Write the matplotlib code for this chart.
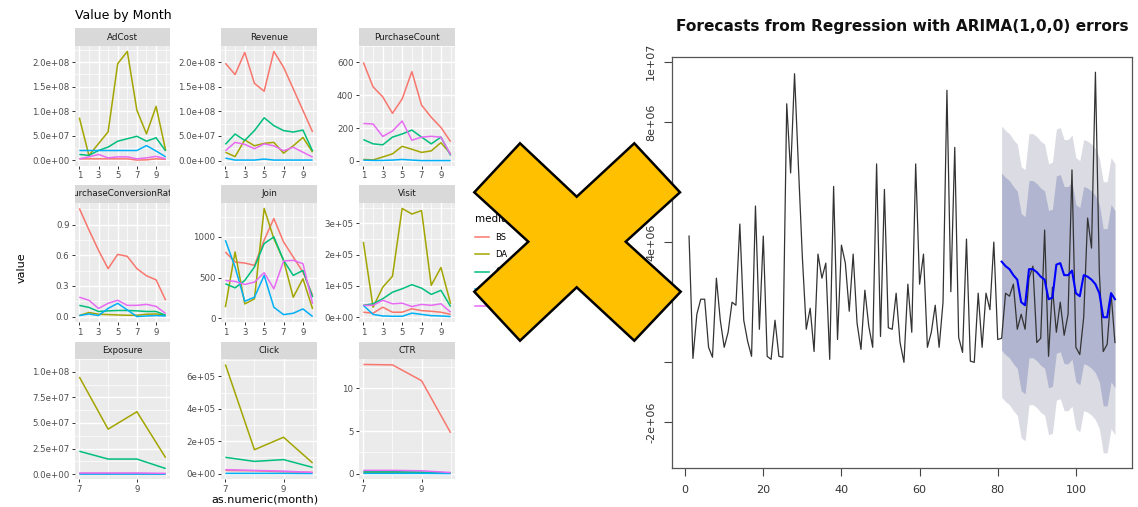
import matplotlib
matplotlib.use("Agg")
import matplotlib.pyplot as plt
from matplotlib.lines import Line2D
from matplotlib.patches import Polygon

W, H = 1138, 507

# ---- left: ggplot-like facets ----
media = ["BS", "DA", "GA", "KK", "NV"]
hue = ["#F8766D", "#A3A500", "#00BF7D", "#00B0F6", "#E76BF3"]

months_a = [1, 2, 3, 4, 5, 6, 7, 8, 9, 10]
months_b = [7, 8, 9, 10]

adcost = [
    [3e6, 3e6, 3e6, 3e6, 3e6, 3e6, 0.5e6, 1e6, 3e6, 2e6],
    [87e6, 10e6, 34e6, 58e6, 197e6, 222e6, 102e6, 54e6, 110e6, 20e6],
    [12e6, 10e6, 20e6, 27e6, 39e6, 44e6, 49e6, 39e6, 46e6, 19e6],
    [20e6, 20e6, 20e6, 20e6, 20e6, 20e6, 20e6, 30e6, 19e6, 7e6],
    [3e6, 7e6, 12e6, 5e6, 7e6, 7e6, 3e6, 5e6, 8e6, 3e6],
]
revenue = [
    [198e6, 175e6, 220e6, 157e6, 141e6, 222e6, 190e6, 146e6, 102e6, 58e6],
    [17e6, 8e6, 42e6, 30e6, 35e6, 37e6, 15e6, 30e6, 47e6, 17e6],
    [33e6, 54e6, 41e6, 61e6, 87e6, 71e6, 61e6, 58e6, 62e6, 19e6],
    [5e6, 1e6, 1e6, 1e6, 3e6, 1e6, 1e6, 1e6, 1e6, 1e6],
    [20e6, 37e6, 33e6, 24e6, 34e6, 30e6, 20e6, 27e6, 17e6, 7e6],
]
purchase_count = [
    [600, 451, 390, 290, 377, 544, 340, 266, 204, 117],
    [9, 6, 24, 43, 89, 71, 52, 61, 111, 43],
    [130, 104, 98, 145, 164, 188, 145, 104, 145, 33],
    [5, 3, 3, 5, 9, 5, 2, 2, 2, 2],
    [228, 225, 149, 182, 243, 126, 145, 150, 145, 37],
]
purchase_conv = [
    [1.06, 0.85, 0.65, 0.47, 0.61, 0.59, 0.47, 0.40, 0.36, 0.16],
    [0.01, 0.04, 0.023, 0.02, 0.016, 0.013, 0.013, 0.023, 0.026, 0.01],
    [0.11, 0.09, 0.05, 0.056, 0.06, 0.06, 0.056, 0.05, 0.05, 0.013],
    [0.01, 0.026, 0.01, 0.08, 0.13, 0.065, 0.0, 0.006, 0.01, 0.006],
    [0.19, 0.16, 0.08, 0.13, 0.16, 0.11, 0.11, 0.12, 0.10, 0.03],
]
join = [
    [815, 691, 679, 650, 960, 1226, 938, 753, 568, 280],
    [136, 815, 177, 239, 1350, 979, 712, 259, 486, 115],
    [424, 374, 465, 630, 918, 1000, 712, 527, 588, 259],
    [959, 630, 210, 259, 527, 136, 45, 62, 115, 21],
    [465, 453, 416, 444, 560, 362, 704, 712, 671, 177],
]
visit = [
    [16e3, 13e3, 32e3, 16e3, 16e3, 27e3, 21e3, 19e3, 16e3, 9e3],
    [241e3, 32e3, 96e3, 131e3, 348e3, 330e3, 341e3, 102e3, 159e3, 43e3],
    [38e3, 43e3, 59e3, 80e3, 91e3, 104e3, 93e3, 73e3, 86e3, 34e3],
    [38e3, 9e3, 4e3, 3e3, 3e3, 13e3, 9e3, 5e3, 4e3, 2e3],
    [38e3, 38e3, 54e3, 43e3, 45e3, 34e3, 41e3, 38e3, 43e3, 16e3],
]
exposure = [
    [0.5e6, 0.5e6, 0.5e6, 0.3e6],
    [95e6, 44e6, 61e6, 16e6],
    [22.4e6, 14.8e6, 14.8e6, 5.5e6],
    [0.1e6, 0.1e6, 0.1e6, 0.05e6],
    [1.2e6, 1.2e6, 1.2e6, 0.8e6],
]
click = [
    [20e3, 18e3, 12e3, 8e3],
    [674e3, 148e3, 225e3, 66e3],
    [101e3, 76e3, 87e3, 39e3],
    [2e3, 2e3, 2e3, 1e3],
    [25e3, 20e3, 16e3, 8e3],
]
ctr = [
    [12.8, 12.75, 10.9, 4.8],
    [0.15, 0.15, 0.12, 0.08],
    [0.25, 0.25, 0.2, 0.1],
    [0.05, 0.05, 0.05, 0.03],
    [0.4, 0.4, 0.35, 0.15],
]

facets = [
    ("AdCost", months_a, adcost, [0, 5e7, 1e8, 1.5e8, 2e8], "{:.1e}"),
    ("Revenue", months_a, revenue, [0, 5e7, 1e8, 1.5e8, 2e8], "{:.1e}"),
    ("PurchaseCount", months_a, purchase_count, [0, 200, 400, 600], "{:.0f}"),
    ("PurchaseConversionRate", months_a, purchase_conv, [0, 0.3, 0.6, 0.9], "{:.1f}"),
    ("Join", months_a, join, [0, 500, 1000], "{:.0f}"),
    ("Visit", months_a, visit, [0, 1e5, 2e5, 3e5], "{:.0e}"),
    ("Exposure", months_b, exposure, [0, 2.5e7, 5e7, 7.5e7, 1e8], "{:.1e}"),
    ("Click", months_b, click, [0, 2e5, 4e5, 6e5], "{:.0e}"),
    ("CTR", months_b, ctr, [0, 5, 10], "{:.0f}"),
]

# ---- right: forecast plot ----
observed = [
    4.2, 0.13, 1.6, 2.1, 2.1, 0.5, 0.17, 2.8, 1.4, 0.5,
    1.0, 2.0, 1.9, 4.6, 1.4, 0.7, 0.2, 5.2, 1.1, 4.2,
    0.2, 0.1, 1.4, 0.2, 0.17, 8.6, 6.3, 9.6, 6.5, 3.5,
    1.1, 1.8, 0.36, 3.6, 2.8, 3.3, 0.1, 5.85, 0.76, 3.9,
    3.3, 1.7, 3.6, 1.3, 0.43, 2.4, 1.2, 0.5, 6.6, 0.86,
    5.75, 1.15, 1.1, 2.3, 0.66, 0.0, 2.6, 1.0, 6.6, 2.6,
    3.6, 0.5, 1.0, 1.9, 0.5, 2.0, 9.05, 2.35, 7.15, 0.83,
    0.33, 4.1, 0.04, 0.0, 2.3, 0.5, 2.3, 1.75, 4.0, 0.76,
    0.8, 2.3, 2.2, 2.6, 1.1, 1.6, 1.1, 2.8, 3.2, 0.66,
    0.8, 4.4, 0.2, 2.5, 1.0, 2.0, 0.9, 1.6, 6.4, 0.5,
    0.26, 1.5, 4.8, 3.8, 9.65, 3.0, 0.36, 0.6, 2.3, 0.66,
]
fc_mean = [
    3.35, 3.2, 3.1, 2.9, 2.75, 2.0, 1.9, 3.1, 3.1, 3.0,
    2.85, 2.75, 2.1, 2.15, 3.25, 3.3, 2.9, 2.9, 3.05, 2.3,
    2.2, 2.9, 2.85, 2.75, 2.6, 2.3, 1.5, 1.5, 2.3, 2.1,
]
fc_se = 2.3  # forecast standard error, millions
fc_start = 81

# X mark vertices (pixels)
xmark = [(520, 143.3), (576.7, 196.7), (634.3, 143.3), (680, 192.3),
         (625.7, 241.7), (680.7, 291.7), (634.3, 340.7), (576.7, 287.3),
         (520, 340.7), (474.3, 291.7), (528.3, 241.7), (474.3, 192.3)]


def px_rect(x0, y0, x1, y1):
    return [x0 / W, 1 - y1 / H, (x1 - x0) / W, (y1 - y0) / H]


fig = plt.figure(figsize=(W / 100, H / 100), dpi=100)
fig.patch.set_facecolor("white")

cols = [(75, 170), (221, 317), (359, 455)]
rows = [(28, 46, 165.5), (185, 203, 322), (342, 359, 479)]

for i, (name, months, series, yticks, fmt) in enumerate(facets):
    r, c = divmod(i, 3)
    x0, x1 = cols[c]
    s_top, p_top, p_bot = rows[r]

    strip = fig.add_axes(px_rect(x0, s_top, x1, p_top))
    strip.set_facecolor("#D9D9D9")
    strip.set_xticks([])
    strip.set_yticks([])
    for sp in strip.spines.values():
        sp.set_visible(False)
    strip.text(0.5, 0.5, name, ha="center", va="center", fontsize=6.3,
               color="#1A1A1A", transform=strip.transAxes, clip_on=True)

    ax = fig.add_axes(px_rect(x0, p_top, x1, p_bot))
    ax.set_facecolor("#EBEBEB")
    for sp in ax.spines.values():
        sp.set_visible(False)
    for k, ys in enumerate(series):
        ax.plot(months, ys, color=hue[k], lw=1.1, solid_capstyle="butt")
    lo = min(min(s) for s in series)
    hi = max(max(s) for s in series)
    pad = (hi - lo) * 0.05
    ax.set_ylim(lo - pad, hi + pad)
    xp = (months[-1] - months[0]) * 0.05
    ax.set_xlim(months[0] - xp, months[-1] + xp)

    xt = months[::2]
    ax.set_xticks(xt)
    ax.set_xticklabels([str(m) for m in xt])
    ax.set_xticks(months[1::2], minor=True)
    ax.set_yticks(yticks)
    ax.set_yticklabels([fmt.format(v) for v in yticks])
    ax.set_yticks([(a + b) / 2 for a, b in zip(yticks[:-1], yticks[1:])]
                  + [yticks[-1] + (yticks[1] - yticks[0]) / 2], minor=True)
    ax.grid(which="major", color="white", lw=1.0)
    ax.grid(which="minor", color="white", lw=0.5)
    ax.set_axisbelow(True)
    ax.tick_params(which="major", length=2.5, width=0.7, color="#333333",
                   labelsize=6.2, labelcolor="#4D4D4D", pad=1.5)
    ax.tick_params(which="minor", length=0)

fig.text(75 / W, 1 - 15 / H, "Value by Month", fontsize=9, ha="left",
         va="center", color="black")
fig.text(22 / W, 1 - 268 / H, "value", fontsize=8, rotation=90,
         ha="center", va="center", color="black")
fig.text(265 / W, 1 - 500 / H, "as.numeric(month)", fontsize=8,
         ha="center", va="center", color="black")

handles = [Line2D([], [], color=h, lw=1.1) for h in hue]
fig.legend(handles, media, title="media", loc="upper left",
           bbox_to_anchor=(468 / W, 1 - 207 / H), frameon=False,
           fontsize=6, title_fontsize=7.5, handlelength=1.6,
           labelspacing=1.0, alignment="left")

# ---- forecast axes ----
axr = fig.add_axes(px_rect(672, 57, 1132, 468))
t_all = list(range(1, len(observed) + 1))
t_fc = list(range(fc_start, fc_start + len(fc_mean)))
obs_v = [v * 1e6 for v in observed]
mean_v = [v * 1e6 for v in fc_mean]
up95 = [(m + 1.96 * fc_se) * 1e6 for m in fc_mean]
lo95 = [(m - 1.96 * fc_se) * 1e6 for m in fc_mean]
up80 = [(m + 1.2816 * fc_se) * 1e6 for m in fc_mean]
lo80 = [(m - 1.2816 * fc_se) * 1e6 for m in fc_mean]

axr.fill_between(t_fc, lo95, up95, color="#DBDBE3", lw=0)
axr.fill_between(t_fc, lo80, up80, color="#B1B5CF", lw=0)
axr.plot(t_all, obs_v, color="#333333", lw=0.9)
axr.plot(t_fc, mean_v, color="#0000FF", lw=1.5)

xr = t_all[-1] - t_all[0]
axr.set_xlim(t_all[0] - 0.04 * xr, t_all[-1] + 0.04 * xr)
ymin = min(min(obs_v), min(lo95))
ymax = max(max(obs_v), max(up95))
yr = ymax - ymin
axr.set_ylim(ymin - 0.04 * yr, ymax + 0.04 * yr)

axr.set_xticks([0, 20, 40, 60, 80, 100])
yt = [-2e6, 0, 2e6, 4e6, 6e6, 8e6, 1e7]
axr.set_yticks(yt)
axr.set_yticklabels(["-2e+06", "", "2e+06", "4e+06", "6e+06", "8e+06", "1e+07"],
                    rotation=90, va="center")
axr.tick_params(length=5.5, width=0.8, color="#444444", labelsize=8,
                labelcolor="#333333")
axr.tick_params(axis="x", pad=7)
axr.tick_params(axis="y", pad=6)
for sp in axr.spines.values():
    sp.set_color("#555555")
    sp.set_linewidth(0.9)
axr.set_title("Forecasts from Regression with ARIMA(1,0,0) errors",
              fontsize=11.1, fontweight="bold", pad=19, color="#111111")

# ---- orange X on top ----
ov = fig.add_axes([0, 0, 1, 1], zorder=10)
ov.set_xlim(0, W)
ov.set_ylim(H, 0)
ov.axis("off")
ov.patch.set_alpha(0)
ov.add_patch(Polygon(xmark, closed=True, facecolor="#FFC000",
                     edgecolor="black", lw=1.8, joinstyle="miter"))

fig.savefig("out.png", dpi=100)
